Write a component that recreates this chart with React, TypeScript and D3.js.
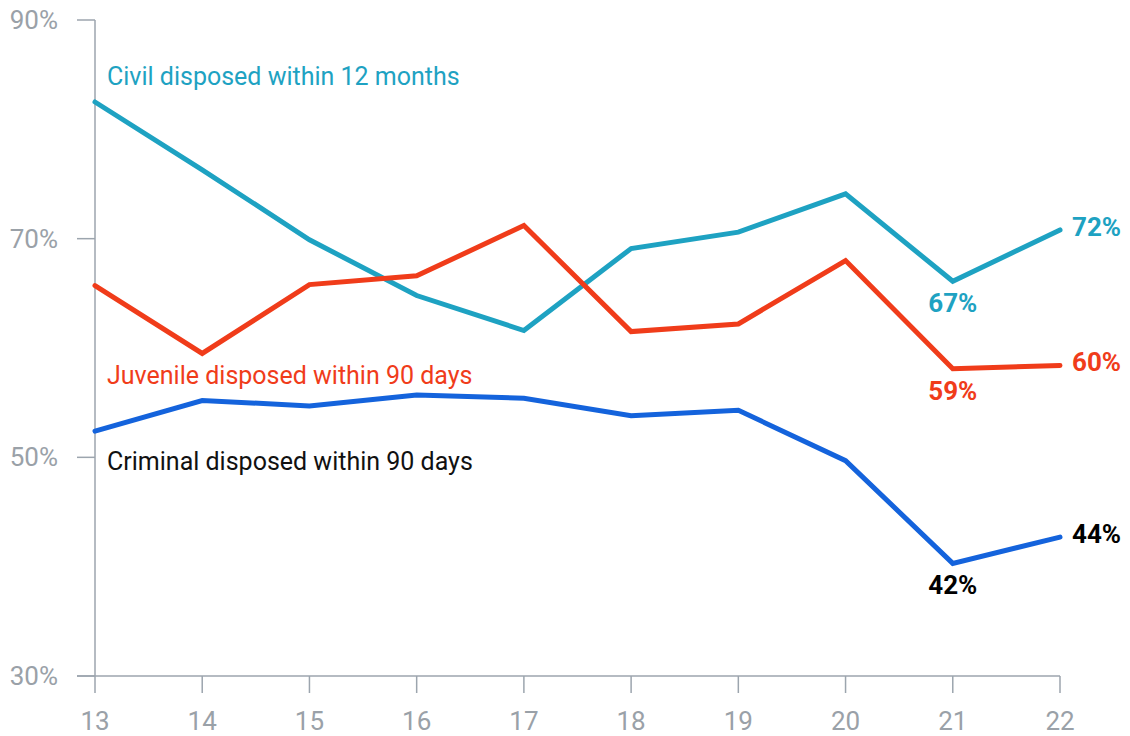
import React, { useRef, useEffect } from 'react';
import * as d3 from 'd3';

const years = [13, 14, 15, 16, 17, 18, 19, 20, 21, 22];
const civil = [82.5, 76.3, 69.9, 64.8, 61.6, 69.1, 70.6, 74.1, 66.1, 70.8];
const juvenile = [65.7, 59.5, 65.8, 66.6, 71.2, 61.5, 62.2, 68.0, 58.1, 58.4];
const criminal = [52.4, 55.2, 54.7, 55.7, 55.4, 53.8, 54.3, 49.7, 40.3, 42.7];
const yTicks = [30, 50, 70, 90];

const seriesNames = [
  'Civil disposed within 12 months',
  'Juvenile disposed within 90 days',
  'Criminal disposed within 90 days',
];
// labels shown at the last two points of each line
const endLabels = [
  ['67%', '72%'],
  ['59%', '60%'],
  ['42%', '44%'],
];

const App: React.FC = () => {
  const ref = useRef<SVGSVGElement | null>(null);

  useEffect(() => {
    if (!ref.current) return;
    const width = 1130;
    const height = 736;
    const svg = d3.select(ref.current);
    svg.attr('width', width).attr('height', height);
    svg.selectAll('*').remove();

    const font = 'Roboto, "Noto Sans", sans-serif';
    const axisColor = '#9ca5ae';
    const x = d3.scaleLinear().domain([13, 22]).range([95, 1060]);
    const y = d3.scaleLinear().domain([30, 90]).range([676, 20]);

    const series = [
      { name: seriesNames[0], values: civil, color: '#1ea2c2', nameColor: '#1ea2c2', labelY: 85, endColor: '#1ea2c2' },
      { name: seriesNames[1], values: juvenile, color: '#f03c1a', nameColor: '#f03c1a', labelY: 384, endColor: '#f03c1a' },
      { name: seriesNames[2], values: criminal, color: '#1463dc', nameColor: '#111111', labelY: 470, endColor: '#000000' },
    ];

    // axes
    const g = svg.append('g');
    g.append('line')
      .attr('x1', x(13)).attr('x2', x(13))
      .attr('y1', y(90)).attr('y2', y(30))
      .attr('stroke', axisColor).attr('stroke-width', 1.5);
    g.append('line')
      .attr('x1', x(13) - 18).attr('x2', x(22))
      .attr('y1', y(30)).attr('y2', y(30))
      .attr('stroke', axisColor).attr('stroke-width', 1.5);

    g.selectAll('.ytick')
      .data(yTicks)
      .enter()
      .append('line')
      .attr('x1', x(13) - 18).attr('x2', x(13))
      .attr('y1', d => y(d)).attr('y2', d => y(d))
      .attr('stroke', axisColor).attr('stroke-width', 1.5);

    g.selectAll('.ylabel')
      .data(yTicks)
      .enter()
      .append('text')
      .attr('x', 58)
      .attr('y', d => y(d) + 9)
      .attr('text-anchor', 'end')
      .attr('fill', '#9aa1a8')
      .style('font-family', font)
      .style('font-size', '26px')
      .text(d => `${d}%`);

    g.selectAll('.xtick')
      .data(years)
      .enter()
      .append('line')
      .attr('x1', d => x(d)).attr('x2', d => x(d))
      .attr('y1', y(30)).attr('y2', y(30) + 17)
      .attr('stroke', axisColor).attr('stroke-width', 1.5);

    g.selectAll('.xlabel')
      .data(years)
      .enter()
      .append('text')
      .attr('x', d => x(d))
      .attr('y', 730)
      .attr('text-anchor', 'middle')
      .attr('fill', '#9aa1a8')
      .style('font-family', font)
      .style('font-size', '26px')
      .text(d => d);

    const line = d3.line<number>()
      .x((_, i) => x(years[i]))
      .y(d => y(d));

    series.forEach((s, si) => {
      svg.append('path')
        .datum(s.values)
        .attr('d', line)
        .attr('fill', 'none')
        .attr('stroke', s.color)
        .attr('stroke-width', 5)
        .attr('stroke-linejoin', 'miter')
        .attr('stroke-linecap', 'round');

      svg.append('text')
        .attr('x', 107)
        .attr('y', s.labelY)
        .attr('fill', s.nameColor)
        .style('font-family', font)
        .style('font-size', '25px')
        .text(s.name);

      const n = s.values.length;
      svg.append('text')
        .attr('x', x(years[n - 2]))
        .attr('y', y(s.values[n - 2]) + 31)
        .attr('text-anchor', 'middle')
        .attr('fill', s.endColor)
        .style('font-family', font)
        .style('font-size', '26px')
        .style('font-weight', 'bold')
        .text(endLabels[si][0]);

      svg.append('text')
        .attr('x', x(years[n - 1]) + 12)
        .attr('y', y(s.values[n - 1]) + 6)
        .attr('fill', s.endColor)
        .style('font-family', font)
        .style('font-size', '26px')
        .style('font-weight', 'bold')
        .text(endLabels[si][1]);
    });
  }, []);

  return <svg ref={ref} style={{ position: 'absolute', left: 0, top: 0 }}></svg>;
};

export default App;
